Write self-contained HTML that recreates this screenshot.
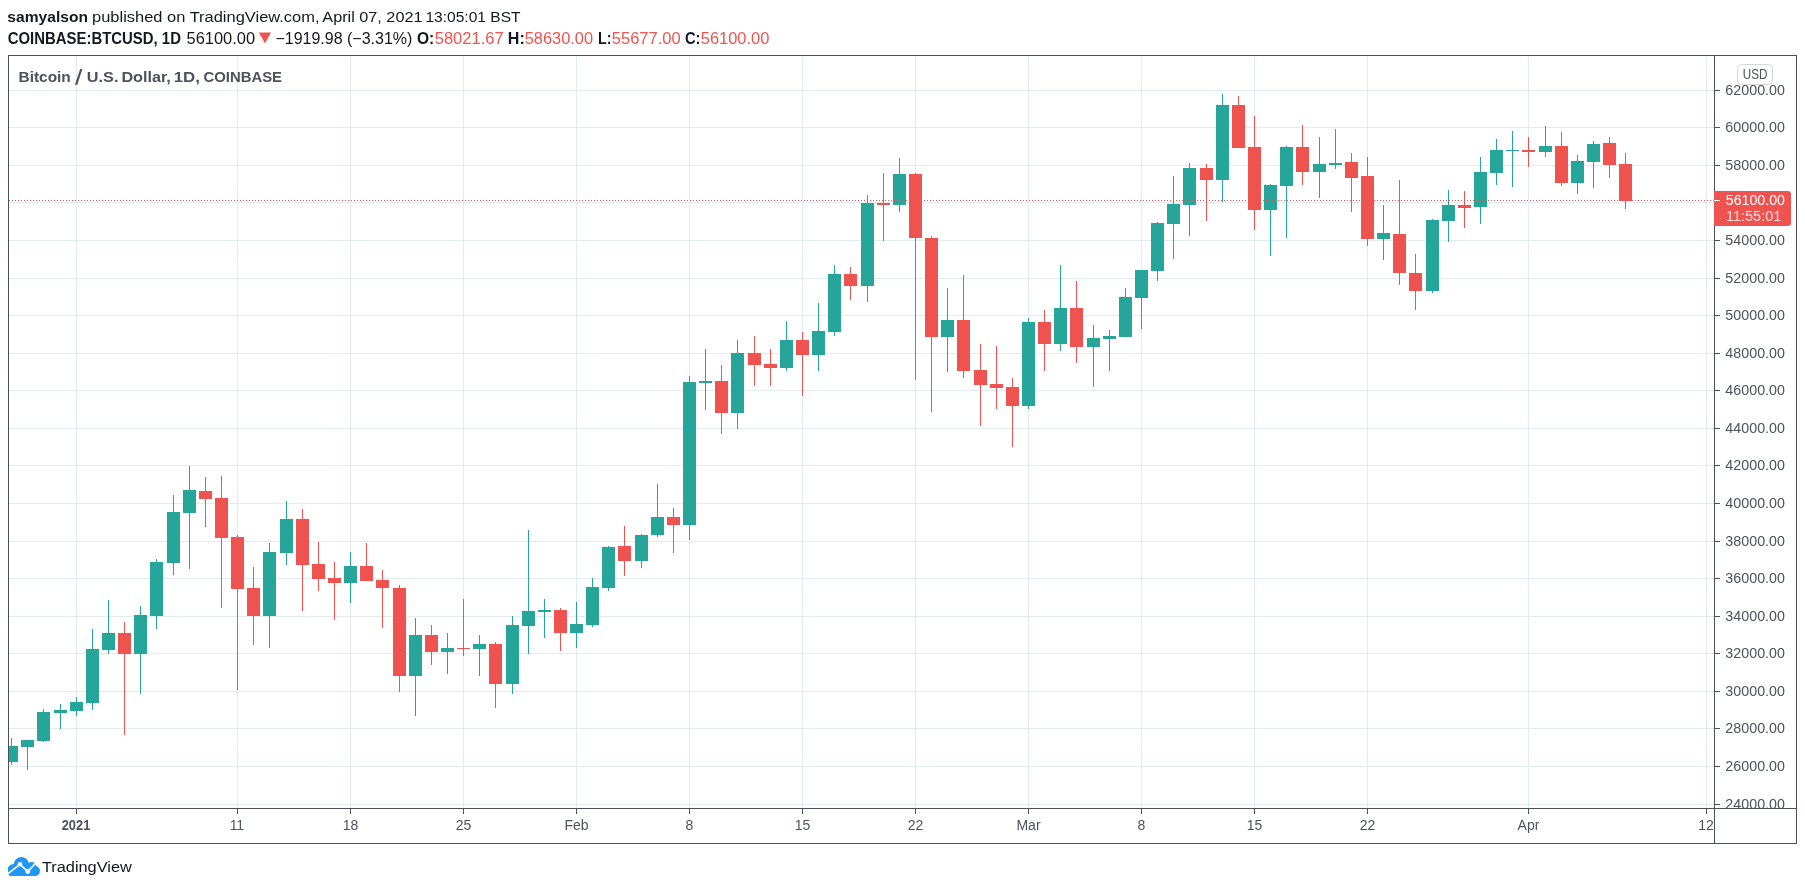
<!DOCTYPE html>
<html><head><meta charset="utf-8"><title>BTCUSD chart</title>
<style>html,body{margin:0;padding:0;background:#fff;width:1805px;height:890px;overflow:hidden;font-family:"Liberation Sans",sans-serif}</style>
</head><body>
<svg width="1805" height="890" viewBox="0 0 1805 890" style="position:absolute;left:0;top:0;will-change:transform">
<rect width="1805" height="890" fill="#ffffff"/>
<g font-family="'Liberation Sans', sans-serif">
<text x="7.35" y="21.8" font-size="15.5" font-weight="bold" fill="#131722" textLength="80.59" lengthAdjust="spacingAndGlyphs">samyalson</text>
<text x="92.04" y="21.8" font-size="15.5" fill="#131722" textLength="227.52" lengthAdjust="spacingAndGlyphs">published on TradingView.com,</text>
<text x="322.32" y="21.8" font-size="15.5" fill="#131722" textLength="100.15" lengthAdjust="spacingAndGlyphs">April 07, 2021</text>
<text x="425.44" y="21.8" font-size="15.5" fill="#131722" textLength="95.1" lengthAdjust="spacingAndGlyphs">13:05:01 BST</text>
<text x="7.74" y="44" font-size="15.6" font-weight="bold" fill="#131722" textLength="173.19" lengthAdjust="spacingAndGlyphs">COINBASE:BTCUSD, 1D</text>
<text x="186.55" y="44" font-size="15.6" fill="#131722" textLength="68.53" lengthAdjust="spacingAndGlyphs">56100.00</text>
<polygon points="258.9,32.6 271,32.6 264.95,43.4" fill="#ef5350"/>
<text x="275.47" y="44" font-size="15.6" fill="#131722" textLength="136.86" lengthAdjust="spacingAndGlyphs">−1919.98 (−3.31%)</text>
<text x="417.0" y="44" font-size="15.6" font-weight="bold" fill="#131722" textLength="17.3" lengthAdjust="spacingAndGlyphs">O:</text>
<text x="434.74" y="44" font-size="15.6" fill="#ef5350" textLength="68.89" lengthAdjust="spacingAndGlyphs">58021.67</text>
<text x="507.81" y="44" font-size="15.6" font-weight="bold" fill="#131722" textLength="16.99" lengthAdjust="spacingAndGlyphs">H:</text>
<text x="524.75" y="44" font-size="15.6" fill="#ef5350" textLength="68.32" lengthAdjust="spacingAndGlyphs">58630.00</text>
<text x="597.93" y="44" font-size="15.6" font-weight="bold" fill="#131722" textLength="13.47" lengthAdjust="spacingAndGlyphs">L:</text>
<text x="611.84" y="44" font-size="15.6" fill="#ef5350" textLength="68.84" lengthAdjust="spacingAndGlyphs">55677.00</text>
<text x="684.96" y="44" font-size="15.6" font-weight="bold" fill="#131722" textLength="15.5" lengthAdjust="spacingAndGlyphs">C:</text>
<text x="700.74" y="44" font-size="15.6" fill="#ef5350" textLength="68.63" lengthAdjust="spacingAndGlyphs">56100.00</text>
</g>
<g shape-rendering="crispEdges">
<rect x="76" y="56" width="1" height="752" fill="#e1ecf2"/><rect x="237" y="56" width="1" height="752" fill="#e1ecf2"/><rect x="350" y="56" width="1" height="752" fill="#e1ecf2"/><rect x="463" y="56" width="1" height="752" fill="#e1ecf2"/><rect x="576" y="56" width="1" height="752" fill="#e1ecf2"/><rect x="689" y="56" width="1" height="752" fill="#e1ecf2"/><rect x="802" y="56" width="1" height="752" fill="#e1ecf2"/><rect x="915" y="56" width="1" height="752" fill="#e1ecf2"/><rect x="1028" y="56" width="1" height="752" fill="#e1ecf2"/><rect x="1141" y="56" width="1" height="752" fill="#e1ecf2"/><rect x="1254" y="56" width="1" height="752" fill="#e1ecf2"/><rect x="1367" y="56" width="1" height="752" fill="#e1ecf2"/><rect x="1528" y="56" width="1" height="752" fill="#e1ecf2"/><rect x="1706" y="56" width="1" height="752" fill="#e1ecf2"/><rect x="9" y="90" width="1705" height="1" fill="#e1ecf2"/><rect x="9" y="127" width="1705" height="1" fill="#e1ecf2"/><rect x="9" y="165" width="1705" height="1" fill="#e1ecf2"/><rect x="9" y="202" width="1705" height="1" fill="#e1ecf2"/><rect x="9" y="240" width="1705" height="1" fill="#e1ecf2"/><rect x="9" y="278" width="1705" height="1" fill="#e1ecf2"/><rect x="9" y="315" width="1705" height="1" fill="#e1ecf2"/><rect x="9" y="353" width="1705" height="1" fill="#e1ecf2"/><rect x="9" y="390" width="1705" height="1" fill="#e1ecf2"/><rect x="9" y="428" width="1705" height="1" fill="#e1ecf2"/><rect x="9" y="465" width="1705" height="1" fill="#e1ecf2"/><rect x="9" y="503" width="1705" height="1" fill="#e1ecf2"/><rect x="9" y="541" width="1705" height="1" fill="#e1ecf2"/><rect x="9" y="578" width="1705" height="1" fill="#e1ecf2"/><rect x="9" y="616" width="1705" height="1" fill="#e1ecf2"/><rect x="9" y="653" width="1705" height="1" fill="#e1ecf2"/><rect x="9" y="691" width="1705" height="1" fill="#e1ecf2"/><rect x="9" y="728" width="1705" height="1" fill="#e1ecf2"/><rect x="9" y="766" width="1705" height="1" fill="#e1ecf2"/><rect x="9" y="804" width="1705" height="1" fill="#e1ecf2"/>
</g>
<defs><clipPath id="pane"><rect x="9" y="56" width="1705" height="752"/></clipPath></defs>
<g shape-rendering="crispEdges" clip-path="url(#pane)">
<rect x="11" y="738" width="1" height="27" fill="#26a69a"/><rect x="5" y="746" width="13" height="16" fill="#26a69a"/><rect x="27" y="740" width="1" height="30" fill="#26a69a"/><rect x="21" y="740" width="13" height="7" fill="#26a69a"/><rect x="43" y="709" width="1" height="33" fill="#26a69a"/><rect x="37" y="712" width="13" height="29" fill="#26a69a"/><rect x="60" y="704" width="1" height="25" fill="#26a69a"/><rect x="54" y="710" width="13" height="3" fill="#26a69a"/><rect x="76" y="697" width="1" height="19" fill="#26a69a"/><rect x="70" y="702" width="13" height="9" fill="#26a69a"/><rect x="92" y="629" width="1" height="81" fill="#26a69a"/><rect x="86" y="649" width="13" height="54" fill="#26a69a"/><rect x="108" y="600" width="1" height="54" fill="#26a69a"/><rect x="102" y="633" width="13" height="17" fill="#26a69a"/><rect x="124" y="622" width="1" height="113" fill="#ef5350"/><rect x="118" y="633" width="13" height="21" fill="#ef5350"/><rect x="140" y="606" width="1" height="88" fill="#26a69a"/><rect x="134" y="615" width="13" height="39" fill="#26a69a"/><rect x="156" y="559" width="1" height="70" fill="#26a69a"/><rect x="150" y="562" width="13" height="54" fill="#26a69a"/><rect x="173" y="495" width="1" height="80" fill="#26a69a"/><rect x="167" y="512" width="13" height="51" fill="#26a69a"/><rect x="189" y="466" width="1" height="103" fill="#26a69a"/><rect x="183" y="490" width="13" height="23" fill="#26a69a"/><rect x="205" y="477" width="1" height="50" fill="#ef5350"/><rect x="199" y="491" width="13" height="8" fill="#ef5350"/><rect x="221" y="476" width="1" height="132" fill="#ef5350"/><rect x="215" y="498" width="13" height="40" fill="#ef5350"/><rect x="237" y="535" width="1" height="155" fill="#ef5350"/><rect x="231" y="537" width="13" height="52" fill="#ef5350"/><rect x="253" y="567" width="1" height="78" fill="#ef5350"/><rect x="247" y="588" width="13" height="28" fill="#ef5350"/><rect x="269" y="543" width="1" height="105" fill="#26a69a"/><rect x="263" y="552" width="13" height="64" fill="#26a69a"/><rect x="286" y="501" width="1" height="64" fill="#26a69a"/><rect x="280" y="519" width="13" height="34" fill="#26a69a"/><rect x="302" y="509" width="1" height="102" fill="#ef5350"/><rect x="296" y="519" width="13" height="46" fill="#ef5350"/><rect x="318" y="542" width="1" height="49" fill="#ef5350"/><rect x="312" y="564" width="13" height="15" fill="#ef5350"/><rect x="334" y="562" width="1" height="58" fill="#ef5350"/><rect x="328" y="578" width="13" height="5" fill="#ef5350"/><rect x="350" y="552" width="1" height="51" fill="#26a69a"/><rect x="344" y="566" width="13" height="17" fill="#26a69a"/><rect x="366" y="543" width="1" height="38" fill="#ef5350"/><rect x="360" y="566" width="13" height="15" fill="#ef5350"/><rect x="382" y="570" width="1" height="58" fill="#ef5350"/><rect x="376" y="580" width="13" height="8" fill="#ef5350"/><rect x="399" y="585" width="1" height="107" fill="#ef5350"/><rect x="393" y="588" width="13" height="88" fill="#ef5350"/><rect x="415" y="618" width="1" height="98" fill="#26a69a"/><rect x="409" y="635" width="13" height="41" fill="#26a69a"/><rect x="431" y="625" width="1" height="40" fill="#ef5350"/><rect x="425" y="635" width="13" height="17" fill="#ef5350"/><rect x="447" y="633" width="1" height="41" fill="#26a69a"/><rect x="441" y="648" width="13" height="4" fill="#26a69a"/><rect x="463" y="599" width="1" height="57" fill="#ef5350"/><rect x="457" y="648" width="13" height="1" fill="#ef5350"/><rect x="479" y="635" width="1" height="41" fill="#26a69a"/><rect x="473" y="644" width="13" height="5" fill="#26a69a"/><rect x="495" y="642" width="1" height="66" fill="#ef5350"/><rect x="489" y="644" width="13" height="40" fill="#ef5350"/><rect x="512" y="616" width="1" height="78" fill="#26a69a"/><rect x="506" y="625" width="13" height="59" fill="#26a69a"/><rect x="528" y="530" width="1" height="124" fill="#26a69a"/><rect x="522" y="611" width="13" height="15" fill="#26a69a"/><rect x="544" y="599" width="1" height="39" fill="#26a69a"/><rect x="538" y="610" width="13" height="2" fill="#26a69a"/><rect x="560" y="608" width="1" height="43" fill="#ef5350"/><rect x="554" y="610" width="13" height="23" fill="#ef5350"/><rect x="576" y="602" width="1" height="46" fill="#26a69a"/><rect x="570" y="624" width="13" height="9" fill="#26a69a"/><rect x="592" y="578" width="1" height="49" fill="#26a69a"/><rect x="586" y="587" width="13" height="38" fill="#26a69a"/><rect x="608" y="546" width="1" height="45" fill="#26a69a"/><rect x="602" y="547" width="13" height="41" fill="#26a69a"/><rect x="624" y="526" width="1" height="50" fill="#ef5350"/><rect x="618" y="546" width="13" height="15" fill="#ef5350"/><rect x="641" y="534" width="1" height="34" fill="#26a69a"/><rect x="635" y="535" width="13" height="26" fill="#26a69a"/><rect x="657" y="484" width="1" height="53" fill="#26a69a"/><rect x="651" y="517" width="13" height="18" fill="#26a69a"/><rect x="673" y="508" width="1" height="45" fill="#ef5350"/><rect x="667" y="517" width="13" height="8" fill="#ef5350"/><rect x="689" y="376" width="1" height="164" fill="#26a69a"/><rect x="683" y="382" width="13" height="143" fill="#26a69a"/><rect x="705" y="349" width="1" height="61" fill="#26a69a"/><rect x="699" y="381" width="13" height="2" fill="#26a69a"/><rect x="721" y="365" width="1" height="69" fill="#ef5350"/><rect x="715" y="381" width="13" height="32" fill="#ef5350"/><rect x="737" y="340" width="1" height="89" fill="#26a69a"/><rect x="731" y="353" width="13" height="60" fill="#26a69a"/><rect x="754" y="336" width="1" height="50" fill="#ef5350"/><rect x="748" y="353" width="13" height="12" fill="#ef5350"/><rect x="770" y="349" width="1" height="37" fill="#ef5350"/><rect x="764" y="364" width="13" height="4" fill="#ef5350"/><rect x="786" y="321" width="1" height="50" fill="#26a69a"/><rect x="780" y="340" width="13" height="28" fill="#26a69a"/><rect x="802" y="332" width="1" height="64" fill="#ef5350"/><rect x="796" y="340" width="13" height="15" fill="#ef5350"/><rect x="818" y="303" width="1" height="68" fill="#26a69a"/><rect x="812" y="331" width="13" height="24" fill="#26a69a"/><rect x="834" y="265" width="1" height="71" fill="#26a69a"/><rect x="828" y="274" width="13" height="58" fill="#26a69a"/><rect x="850" y="267" width="1" height="33" fill="#ef5350"/><rect x="844" y="274" width="13" height="12" fill="#ef5350"/><rect x="867" y="195" width="1" height="107" fill="#26a69a"/><rect x="861" y="203" width="13" height="83" fill="#26a69a"/><rect x="883" y="173" width="1" height="68" fill="#ef5350"/><rect x="877" y="203" width="13" height="2" fill="#ef5350"/><rect x="899" y="158" width="1" height="54" fill="#26a69a"/><rect x="893" y="174" width="13" height="31" fill="#26a69a"/><rect x="915" y="173" width="1" height="207" fill="#ef5350"/><rect x="909" y="174" width="13" height="64" fill="#ef5350"/><rect x="931" y="236" width="1" height="176" fill="#ef5350"/><rect x="925" y="238" width="13" height="99" fill="#ef5350"/><rect x="947" y="288" width="1" height="84" fill="#26a69a"/><rect x="941" y="320" width="13" height="17" fill="#26a69a"/><rect x="963" y="275" width="1" height="103" fill="#ef5350"/><rect x="957" y="320" width="13" height="51" fill="#ef5350"/><rect x="980" y="344" width="1" height="82" fill="#ef5350"/><rect x="974" y="370" width="13" height="15" fill="#ef5350"/><rect x="996" y="346" width="1" height="63" fill="#ef5350"/><rect x="990" y="384" width="13" height="4" fill="#ef5350"/><rect x="1012" y="378" width="1" height="69" fill="#ef5350"/><rect x="1006" y="387" width="13" height="19" fill="#ef5350"/><rect x="1028" y="318" width="1" height="91" fill="#26a69a"/><rect x="1022" y="322" width="13" height="84" fill="#26a69a"/><rect x="1044" y="310" width="1" height="61" fill="#ef5350"/><rect x="1038" y="322" width="13" height="22" fill="#ef5350"/><rect x="1060" y="265" width="1" height="86" fill="#26a69a"/><rect x="1054" y="308" width="13" height="36" fill="#26a69a"/><rect x="1076" y="281" width="1" height="82" fill="#ef5350"/><rect x="1070" y="308" width="13" height="39" fill="#ef5350"/><rect x="1093" y="325" width="1" height="62" fill="#26a69a"/><rect x="1087" y="338" width="13" height="9" fill="#26a69a"/><rect x="1109" y="330" width="1" height="41" fill="#26a69a"/><rect x="1103" y="336" width="13" height="3" fill="#26a69a"/><rect x="1125" y="288" width="1" height="49" fill="#26a69a"/><rect x="1119" y="297" width="13" height="40" fill="#26a69a"/><rect x="1141" y="270" width="1" height="59" fill="#26a69a"/><rect x="1135" y="270" width="13" height="28" fill="#26a69a"/><rect x="1157" y="222" width="1" height="59" fill="#26a69a"/><rect x="1151" y="223" width="13" height="48" fill="#26a69a"/><rect x="1173" y="176" width="1" height="83" fill="#26a69a"/><rect x="1167" y="204" width="13" height="20" fill="#26a69a"/><rect x="1189" y="163" width="1" height="73" fill="#26a69a"/><rect x="1183" y="168" width="13" height="37" fill="#26a69a"/><rect x="1206" y="164" width="1" height="57" fill="#ef5350"/><rect x="1200" y="168" width="13" height="12" fill="#ef5350"/><rect x="1222" y="94" width="1" height="108" fill="#26a69a"/><rect x="1216" y="105" width="13" height="75" fill="#26a69a"/><rect x="1238" y="96" width="1" height="52" fill="#ef5350"/><rect x="1232" y="105" width="13" height="43" fill="#ef5350"/><rect x="1254" y="116" width="1" height="114" fill="#ef5350"/><rect x="1248" y="147" width="13" height="63" fill="#ef5350"/><rect x="1270" y="184" width="1" height="72" fill="#26a69a"/><rect x="1264" y="185" width="13" height="25" fill="#26a69a"/><rect x="1286" y="146" width="1" height="92" fill="#26a69a"/><rect x="1280" y="147" width="13" height="39" fill="#26a69a"/><rect x="1302" y="125" width="1" height="60" fill="#ef5350"/><rect x="1296" y="147" width="13" height="25" fill="#ef5350"/><rect x="1319" y="137" width="1" height="61" fill="#26a69a"/><rect x="1313" y="164" width="13" height="8" fill="#26a69a"/><rect x="1335" y="129" width="1" height="40" fill="#26a69a"/><rect x="1329" y="163" width="13" height="2" fill="#26a69a"/><rect x="1351" y="153" width="1" height="59" fill="#ef5350"/><rect x="1345" y="162" width="13" height="16" fill="#ef5350"/><rect x="1367" y="157" width="1" height="89" fill="#ef5350"/><rect x="1361" y="176" width="13" height="63" fill="#ef5350"/><rect x="1383" y="205" width="1" height="55" fill="#26a69a"/><rect x="1377" y="233" width="13" height="6" fill="#26a69a"/><rect x="1399" y="180" width="1" height="105" fill="#ef5350"/><rect x="1393" y="234" width="13" height="39" fill="#ef5350"/><rect x="1415" y="254" width="1" height="56" fill="#ef5350"/><rect x="1409" y="273" width="13" height="18" fill="#ef5350"/><rect x="1432" y="219" width="1" height="74" fill="#26a69a"/><rect x="1426" y="220" width="13" height="71" fill="#26a69a"/><rect x="1448" y="190" width="1" height="52" fill="#26a69a"/><rect x="1442" y="205" width="13" height="16" fill="#26a69a"/><rect x="1464" y="191" width="1" height="37" fill="#ef5350"/><rect x="1458" y="205" width="13" height="3" fill="#ef5350"/><rect x="1480" y="157" width="1" height="67" fill="#26a69a"/><rect x="1474" y="172" width="13" height="35" fill="#26a69a"/><rect x="1496" y="139" width="1" height="46" fill="#26a69a"/><rect x="1490" y="150" width="13" height="23" fill="#26a69a"/><rect x="1512" y="131" width="1" height="56" fill="#26a69a"/><rect x="1506" y="150" width="13" height="1" fill="#26a69a"/><rect x="1528" y="137" width="1" height="30" fill="#ef5350"/><rect x="1522" y="150" width="13" height="2" fill="#ef5350"/><rect x="1545" y="126" width="1" height="31" fill="#26a69a"/><rect x="1539" y="146" width="13" height="6" fill="#26a69a"/><rect x="1561" y="132" width="1" height="54" fill="#ef5350"/><rect x="1555" y="146" width="13" height="37" fill="#ef5350"/><rect x="1577" y="155" width="1" height="39" fill="#26a69a"/><rect x="1571" y="161" width="13" height="22" fill="#26a69a"/><rect x="1593" y="141" width="1" height="47" fill="#26a69a"/><rect x="1587" y="144" width="13" height="18" fill="#26a69a"/><rect x="1609" y="137" width="1" height="41" fill="#ef5350"/><rect x="1603" y="143" width="13" height="22" fill="#ef5350"/><rect x="1625" y="153" width="1" height="56" fill="#ef5350"/><rect x="1619" y="164" width="13" height="37" fill="#ef5350"/>
</g>
<line x1="9" y1="200.5" x2="1714" y2="200.5" stroke="#ef5350" stroke-width="1" stroke-dasharray="1 2"/>
<g font-family="'Liberation Sans', sans-serif">
<text x="18.57" y="81.7" font-size="15" font-weight="bold" fill="#4c525e" textLength="52.24" lengthAdjust="spacingAndGlyphs">Bitcoin</text>
<polygon points="74.9,84.8 77.3,84.8 82.4,69.1 80.2,69.1" fill="#4c525e"/>
<text x="86.89" y="81.7" font-size="15" font-weight="bold" fill="#4c525e" textLength="31.56" lengthAdjust="spacingAndGlyphs">U.S.</text>
<text x="121.42" y="81.7" font-size="15" font-weight="bold" fill="#4c525e" textLength="49.42" lengthAdjust="spacingAndGlyphs">Dollar,</text>
<text x="173.77" y="81.7" font-size="15" font-weight="bold" fill="#4c525e" textLength="26.19" lengthAdjust="spacingAndGlyphs">1D,</text>
<text x="203.53" y="81.7" font-size="15" font-weight="bold" fill="#4c525e" textLength="78.5" lengthAdjust="spacingAndGlyphs">COINBASE</text>
</g>
<g shape-rendering="crispEdges">
<rect x="8" y="55" width="1789" height="1" fill="#4c505c"/>
<rect x="8" y="843" width="1789" height="1" fill="#4c505c"/>
<rect x="8" y="55" width="1" height="789" fill="#4c505c"/>
<rect x="1796" y="55" width="1" height="789" fill="#4c505c"/>
<rect x="1714" y="55" width="1" height="789" fill="#4c505c"/>
<rect x="8" y="808" width="1789" height="1" fill="#4c505c"/>
</g>
<g font-family="'Liberation Sans', sans-serif">
<clipPath id="pax"><rect x="1715" y="56" width="81" height="752"/></clipPath>
<g clip-path="url(#pax)"><rect x="1715" y="90" width="5" height="1" fill="#4c505c"/><text x="1725.39" y="95" font-size="14" fill="#4c525e" textLength="59.6" lengthAdjust="spacingAndGlyphs">62000.00</text><rect x="1715" y="127" width="5" height="1" fill="#4c505c"/><text x="1725.39" y="132" font-size="14" fill="#4c525e" textLength="59.6" lengthAdjust="spacingAndGlyphs">60000.00</text><rect x="1715" y="165" width="5" height="1" fill="#4c505c"/><text x="1725.39" y="170" font-size="14" fill="#4c525e" textLength="59.6" lengthAdjust="spacingAndGlyphs">58000.00</text><rect x="1715" y="202" width="5" height="1" fill="#4c505c"/><rect x="1715" y="240" width="5" height="1" fill="#4c505c"/><text x="1725.39" y="245" font-size="14" fill="#4c525e" textLength="59.6" lengthAdjust="spacingAndGlyphs">54000.00</text><rect x="1715" y="278" width="5" height="1" fill="#4c505c"/><text x="1725.39" y="283" font-size="14" fill="#4c525e" textLength="59.6" lengthAdjust="spacingAndGlyphs">52000.00</text><rect x="1715" y="315" width="5" height="1" fill="#4c505c"/><text x="1725.39" y="320" font-size="14" fill="#4c525e" textLength="59.6" lengthAdjust="spacingAndGlyphs">50000.00</text><rect x="1715" y="353" width="5" height="1" fill="#4c505c"/><text x="1725.39" y="358" font-size="14" fill="#4c525e" textLength="59.6" lengthAdjust="spacingAndGlyphs">48000.00</text><rect x="1715" y="390" width="5" height="1" fill="#4c505c"/><text x="1725.39" y="395" font-size="14" fill="#4c525e" textLength="59.6" lengthAdjust="spacingAndGlyphs">46000.00</text><rect x="1715" y="428" width="5" height="1" fill="#4c505c"/><text x="1725.39" y="433" font-size="14" fill="#4c525e" textLength="59.6" lengthAdjust="spacingAndGlyphs">44000.00</text><rect x="1715" y="465" width="5" height="1" fill="#4c505c"/><text x="1725.39" y="470" font-size="14" fill="#4c525e" textLength="59.6" lengthAdjust="spacingAndGlyphs">42000.00</text><rect x="1715" y="503" width="5" height="1" fill="#4c505c"/><text x="1725.39" y="508" font-size="14" fill="#4c525e" textLength="59.6" lengthAdjust="spacingAndGlyphs">40000.00</text><rect x="1715" y="541" width="5" height="1" fill="#4c505c"/><text x="1725.39" y="546" font-size="14" fill="#4c525e" textLength="59.6" lengthAdjust="spacingAndGlyphs">38000.00</text><rect x="1715" y="578" width="5" height="1" fill="#4c505c"/><text x="1725.39" y="583" font-size="14" fill="#4c525e" textLength="59.6" lengthAdjust="spacingAndGlyphs">36000.00</text><rect x="1715" y="616" width="5" height="1" fill="#4c505c"/><text x="1725.39" y="621" font-size="14" fill="#4c525e" textLength="59.6" lengthAdjust="spacingAndGlyphs">34000.00</text><rect x="1715" y="653" width="5" height="1" fill="#4c505c"/><text x="1725.39" y="658" font-size="14" fill="#4c525e" textLength="59.6" lengthAdjust="spacingAndGlyphs">32000.00</text><rect x="1715" y="691" width="5" height="1" fill="#4c505c"/><text x="1725.39" y="696" font-size="14" fill="#4c525e" textLength="59.6" lengthAdjust="spacingAndGlyphs">30000.00</text><rect x="1715" y="728" width="5" height="1" fill="#4c505c"/><text x="1725.39" y="733" font-size="14" fill="#4c525e" textLength="59.6" lengthAdjust="spacingAndGlyphs">28000.00</text><rect x="1715" y="766" width="5" height="1" fill="#4c505c"/><text x="1725.39" y="771" font-size="14" fill="#4c525e" textLength="59.6" lengthAdjust="spacingAndGlyphs">26000.00</text><rect x="1715" y="804" width="5" height="1" fill="#4c505c"/><text x="1725.39" y="809" font-size="14" fill="#4c525e" textLength="59.6" lengthAdjust="spacingAndGlyphs">24000.00</text></g>
<rect x="76" y="809" width="1" height="5" fill="#4c505c"/><text x="76.0" y="830.2" font-size="14" fill="#4c525e" text-anchor="middle" font-weight="bold" textLength="28.6" lengthAdjust="spacingAndGlyphs">2021</text><rect x="237" y="809" width="1" height="5" fill="#4c505c"/><text x="236.9" y="830.2" font-size="14" fill="#4c525e" text-anchor="middle">11</text><rect x="350" y="809" width="1" height="5" fill="#4c505c"/><text x="350.5" y="830.2" font-size="14" fill="#4c525e" text-anchor="middle">18</text><rect x="463" y="809" width="1" height="5" fill="#4c505c"/><text x="463.5" y="830.2" font-size="14" fill="#4c525e" text-anchor="middle">25</text><rect x="576" y="809" width="1" height="5" fill="#4c505c"/><text x="576.5" y="830.2" font-size="14" fill="#4c525e" text-anchor="middle">Feb</text><rect x="689" y="809" width="1" height="5" fill="#4c505c"/><text x="689.5" y="830.2" font-size="14" fill="#4c525e" text-anchor="middle">8</text><rect x="802" y="809" width="1" height="5" fill="#4c505c"/><text x="802.5" y="830.2" font-size="14" fill="#4c525e" text-anchor="middle">15</text><rect x="915" y="809" width="1" height="5" fill="#4c505c"/><text x="915.5" y="830.2" font-size="14" fill="#4c525e" text-anchor="middle">22</text><rect x="1028" y="809" width="1" height="5" fill="#4c505c"/><text x="1028.5" y="830.2" font-size="14" fill="#4c525e" text-anchor="middle">Mar</text><rect x="1141" y="809" width="1" height="5" fill="#4c505c"/><text x="1141.5" y="830.2" font-size="14" fill="#4c525e" text-anchor="middle">8</text><rect x="1254" y="809" width="1" height="5" fill="#4c505c"/><text x="1254.5" y="830.2" font-size="14" fill="#4c525e" text-anchor="middle">15</text><rect x="1367" y="809" width="1" height="5" fill="#4c505c"/><text x="1367.5" y="830.2" font-size="14" fill="#4c525e" text-anchor="middle">22</text><rect x="1528" y="809" width="1" height="5" fill="#4c505c"/><text x="1528.5" y="830.2" font-size="14" fill="#4c525e" text-anchor="middle">Apr</text><rect x="1706" y="809" width="1" height="5" fill="#4c505c"/><text x="1706.0" y="830.2" font-size="14" fill="#4c525e" text-anchor="middle">12</text>
<rect x="1737.5" y="64.5" width="35" height="20" rx="4" fill="#ffffff" stroke="#d5d8e0" stroke-width="1"/>
<text x="1742.76" y="79" font-size="14" fill="#4c525e" textLength="24.74" lengthAdjust="spacingAndGlyphs">USD</text>
<path d="M1714,191 H1788 a3,3 0 0 1 3,3 V223 a3,3 0 0 1 -3,3 H1714 Z" fill="#ef5350"/>
<rect x="1714" y="200" width="6" height="1" fill="#ffffff"/>
<text x="1725.76" y="205.2" font-size="14" fill="#ffffff" textLength="59.23" lengthAdjust="spacingAndGlyphs">56100.00</text>
<text x="1725.98" y="221" font-size="14" fill="#ffffff" textLength="55.31" lengthAdjust="spacingAndGlyphs" fill-opacity="0.8">11:55:01</text>
</g>
<g>
<g fill="#2196f3">
<circle cx="13.3" cy="869.6" r="5.5"/>
<circle cx="21.4" cy="864.6" r="7.6"/>
<circle cx="31.8" cy="866.3" r="4.3"/>
<circle cx="35" cy="871" r="5"/>
<rect x="8" y="866" width="30" height="10" rx="3"/>
</g>
<polyline points="5,875.9 20,864.3 27.8,871.5 38.5,860.1" fill="none" stroke="#ffffff" stroke-width="1.6" stroke-linejoin="round"/>
<circle cx="20" cy="864.3" r="2.3" fill="#ffffff"/>
<circle cx="27.8" cy="871.5" r="2.4" fill="#ffffff"/>
<g font-family="'Liberation Sans', sans-serif"><text x="41.92" y="871.8" font-size="15.5" fill="#131722" textLength="89.94" lengthAdjust="spacingAndGlyphs">TradingView</text></g>
</g>
</svg>
</body></html>
